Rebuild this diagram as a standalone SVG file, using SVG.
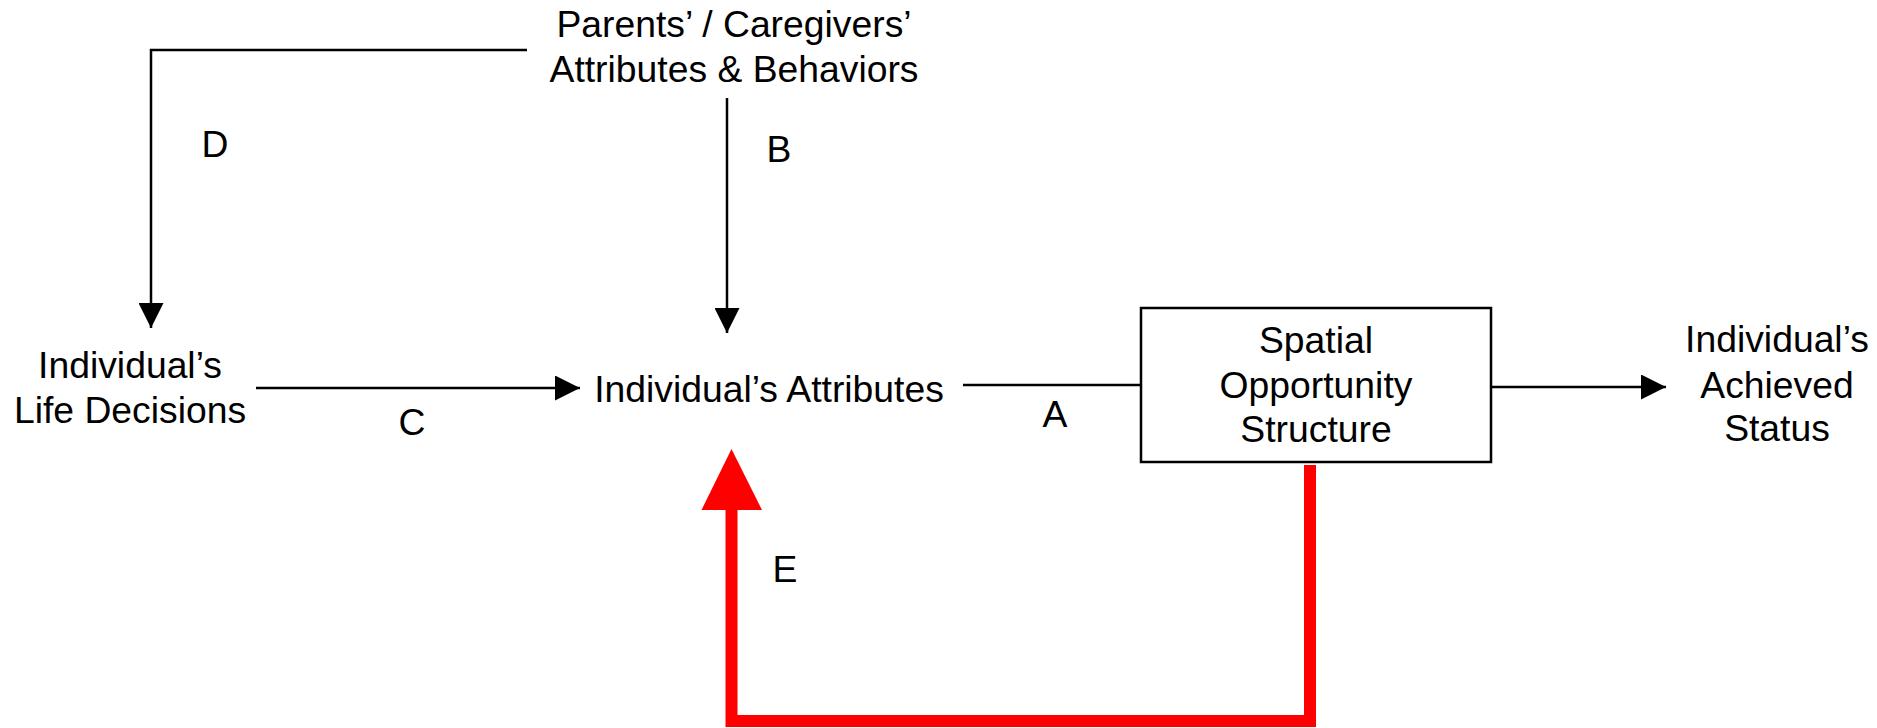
<svg xmlns="http://www.w3.org/2000/svg" width="1877" height="728" viewBox="0 0 1877 728">
<style>
text{font-family:"Liberation Sans",Arial,sans-serif;font-size:37.3px;fill:#000;text-anchor:middle}
.ln{fill:none;stroke:#000;stroke-width:2.5}
.red{fill:none;stroke:#ff0000;stroke-width:12;stroke-linejoin:miter}
</style>
<defs>
<marker id="ah" viewBox="0 0 10 10" refX="10" refY="5" markerWidth="25" markerHeight="25" markerUnits="userSpaceOnUse" orient="auto">
<path d="M0,0 L10,5 L0,10 z" fill="#000"/>
</marker>
</defs>
<rect width="1877" height="728" fill="#fff"/>
<g id="connectors">
<path class="ln" d="M527,50 H151 V328" marker-end="url(#ah)"/>
<path class="ln" d="M727,98 V333" marker-end="url(#ah)"/>
<path class="ln" d="M256,388 H580" marker-end="url(#ah)"/>
<path class="ln" d="M963,385 H1141"/>
<path class="ln" d="M1492,387 H1666" marker-end="url(#ah)"/>
<path class="red" d="M1310,465 V721 H731.5 V505"/>
<polygon points="731.5,449 762,510 701.5,510" fill="#ff0000"/>
<text x="215" y="157">D</text>
<text x="779" y="162">B</text>
<text x="412" y="435">C</text>
<text x="1055" y="427">A</text>
<text x="785" y="582">E</text>
</g>
<g id="parents">
<text x="734" y="37">Parents’ / Caregivers’</text>
<text x="734" y="82">Attributes &amp; Behaviors</text>
</g>
<g id="life-decisions">
<text x="130" y="378">Individual’s</text>
<text x="130" y="423">Life Decisions</text>
</g>
<g id="attributes">
<text x="769" y="402">Individual’s Attributes</text>
</g>
<g id="spatial">
<rect x="1141" y="308" width="350" height="154" fill="#fff" stroke="#000" stroke-width="2.5"/>
<text x="1316" y="353">Spatial</text>
<text x="1316" y="398">Opportunity</text>
<text x="1316" y="442">Structure</text>
</g>
<g id="achieved">
<text x="1777" y="352">Individual’s</text>
<text x="1777" y="398">Achieved</text>
<text x="1777" y="441">Status</text>
</g>
</svg>
